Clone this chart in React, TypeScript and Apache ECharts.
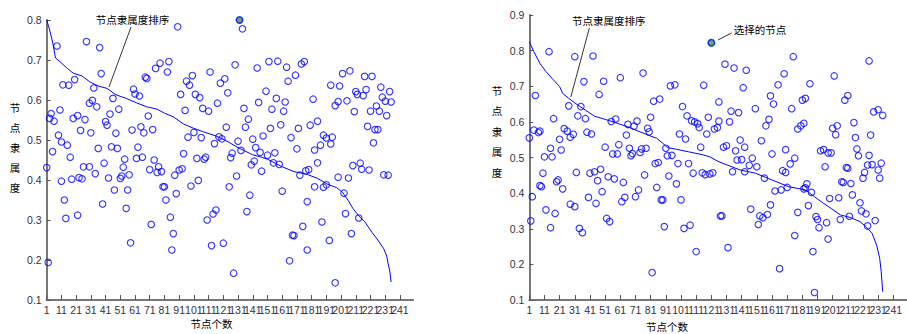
import React, { useEffect, useRef } from "react";
import * as echarts from "echarts";

// ---- Left panel data: [node index, membership] ----
const leftCurve: [number, number][] = [
  [1, 0.8], [3, 0.775], [5, 0.745], [7, 0.705], [10, 0.696], [15, 0.679], [19, 0.667], [25, 0.66],
  [30, 0.646], [36, 0.635], [42, 0.629], [48, 0.613], [55, 0.604], [62, 0.593], [69, 0.583], [76, 0.577],
  [81, 0.567], [87, 0.558], [94, 0.54], [101, 0.529], [107, 0.521], [116, 0.51], [123, 0.498], [132, 0.479],
  [141, 0.463], [146, 0.458], [151, 0.452], [161, 0.433], [169, 0.421], [178, 0.414], [185, 0.404],
  [192, 0.389], [198, 0.381], [202, 0.369], [206, 0.348], [209, 0.329], [213, 0.31], [217, 0.296],
  [222, 0.269], [226, 0.25], [230, 0.228], [232, 0.21], [233, 0.19], [234, 0.175], [235, 0.145],
];

const leftPoints: [number, number][] = [
  [90, 0.783], [134, 0.778], [8, 0.735], [28, 0.746], [37, 0.731], [38, 0.666], [78, 0.692], [75, 0.679],
  [84, 0.696], [83, 0.67], [68, 0.657], [69, 0.654], [112, 0.67], [129, 0.688], [144, 0.68], [152, 0.696],
  [158, 0.697], [164, 0.682], [170, 0.662], [174, 0.69], [176, 0.696], [207, 0.673], [202, 0.666], [217, 0.659],
  [222, 0.659], [12, 0.638], [16, 0.637], [20, 0.651], [33, 0.63], [60, 0.627], [61, 0.615], [64, 0.61],
  [46, 0.604], [96, 0.647], [98, 0.637], [100, 0.661], [102, 0.614], [105, 0.606], [92, 0.614], [119, 0.642],
  [122, 0.653], [124, 0.618], [117, 0.592], [107, 0.579], [111, 0.572], [95, 0.574], [135, 0.579], [145, 0.594],
  [150, 0.622], [157, 0.604], [154, 0.577], [163, 0.595], [162, 0.572], [165, 0.647], [182, 0.602], [194, 0.637],
  [200, 0.635], [211, 0.621], [212, 0.614], [218, 0.626], [216, 0.611], [205, 0.598], [199, 0.596], [197, 0.586],
  [210, 0.571], [228, 0.632], [234, 0.621], [229, 0.607], [231, 0.597], [235, 0.595], [225, 0.585], [221, 0.572],
  [227, 0.572], [232, 0.561], [219, 0.534], [224, 0.526], [226, 0.526], [223, 0.493], [4, 0.566], [3, 0.554],
  [6, 0.547], [10, 0.575], [19, 0.554], [22, 0.561], [30, 0.592], [32, 0.599], [35, 0.583], [27, 0.551],
  [24, 0.524], [31, 0.518], [41, 0.546], [42, 0.537], [44, 0.565], [50, 0.577], [70, 0.56], [59, 0.525],
  [65, 0.533], [67, 0.518], [73, 0.526], [48, 0.517], [9, 0.512], [11, 0.495], [15, 0.487], [5, 0.471],
  [17, 0.457], [36, 0.479], [45, 0.483], [49, 0.479], [63, 0.482], [62, 0.454], [66, 0.457], [74, 0.45],
  [94, 0.466], [97, 0.507], [101, 0.519], [106, 0.506], [103, 0.454], [108, 0.452], [109, 0.457], [115, 0.491],
  [118, 0.508], [120, 0.503], [123, 0.532], [127, 0.467], [126, 0.456], [131, 0.497], [133, 0.474], [136, 0.532],
  [138, 0.552], [141, 0.502], [143, 0.481], [148, 0.51], [153, 0.529], [160, 0.538], [167, 0.506], [172, 0.529],
  [171, 0.478], [142, 0.447], [146, 0.469], [151, 0.462], [156, 0.468], [180, 0.537], [185, 0.547], [189, 0.512],
  [191, 0.505], [195, 0.507], [194, 0.49], [187, 0.487], [183, 0.475], [54, 0.452],
  [1, 0.431], [2, 0.194], [11, 0.397], [13, 0.35], [14, 0.304], [18, 0.402], [23, 0.406], [25, 0.403],
  [22, 0.312], [26, 0.433], [30, 0.433], [34, 0.416], [39, 0.34], [40, 0.442], [43, 0.405], [47, 0.375],
  [51, 0.404], [52, 0.41], [53, 0.432], [55, 0.329], [56, 0.375], [57, 0.413], [58, 0.243], [71, 0.426],
  [72, 0.289], [76, 0.419], [77, 0.433], [79, 0.421], [80, 0.383], [81, 0.383], [82, 0.35], [85, 0.307],
  [86, 0.225], [87, 0.266], [88, 0.412], [89, 0.366], [91, 0.425], [93, 0.428], [99, 0.385], [104, 0.399],
  [110, 0.3], [113, 0.236], [114, 0.315], [116, 0.325], [121, 0.242], [125, 0.383], [128, 0.167], [130, 0.41],
  [137, 0.321], [139, 0.362], [140, 0.438], [147, 0.422], [155, 0.443], [159, 0.439], [161, 0.372], [166, 0.198],
  [168, 0.262], [169, 0.261], [173, 0.412], [175, 0.284], [177, 0.423], [179, 0.426], [178, 0.346], [178, 0.225],
  [183, 0.383], [185, 0.443], [188, 0.295], [189, 0.382], [191, 0.388], [193, 0.249], [197, 0.143], [199, 0.407],
  [203, 0.367], [204, 0.316], [206, 0.405], [208, 0.266], [209, 0.436], [213, 0.305], [214, 0.442], [215, 0.427],
  [220, 0.425], [230, 0.413], [233, 0.412],
];

const leftSelected: [number, number][] = [[132, 0.8]];

// ---- Right panel data ----
const rightCurve: [number, number][] = [
  [1, 0.825], [4, 0.797], [8, 0.764], [12, 0.741], [16, 0.722], [21, 0.699], [23, 0.68], [27, 0.666],
  [33, 0.647], [38, 0.633], [44, 0.616], [51, 0.607], [59, 0.596], [66, 0.586], [74, 0.572], [81, 0.56],
  [85, 0.554], [89, 0.54], [92, 0.528], [98, 0.523], [106, 0.516], [115, 0.508], [120, 0.502], [125, 0.49],
  [132, 0.478], [140, 0.465], [150, 0.456], [161, 0.437], [172, 0.418], [183, 0.409], [189, 0.39],
  [195, 0.371], [200, 0.357], [206, 0.339], [213, 0.331], [219, 0.32], [223, 0.306], [227, 0.287],
  [230, 0.254], [232, 0.217], [233, 0.18], [234, 0.123],
];

const rightPoints: [number, number][] = [
  [1, 0.555], [5, 0.674], [4, 0.577], [7, 0.57], [8, 0.574], [14, 0.797], [11, 0.502], [16, 0.502],
  [15, 0.526], [17, 0.609], [21, 0.551], [22, 0.521], [24, 0.581], [26, 0.574], [28, 0.557], [27, 0.645],
  [30, 0.565], [31, 0.783], [35, 0.643], [33, 0.617], [37, 0.713], [38, 0.609], [39, 0.571], [42, 0.566],
  [43, 0.785], [47, 0.677], [50, 0.714], [51, 0.529], [56, 0.51], [59, 0.51], [55, 0.601], [58, 0.608],
  [61, 0.724], [60, 0.536], [65, 0.563], [66, 0.593], [67, 0.526], [68, 0.505], [69, 0.511], [70, 0.588],
  [72, 0.602], [74, 0.514], [75, 0.524], [78, 0.526], [76, 0.737], [79, 0.582], [80, 0.572], [81, 0.613],
  [83, 0.658], [87, 0.664], [84, 0.483], [86, 0.486], [91, 0.526], [92, 0.505], [95, 0.506], [94, 0.701],
  [97, 0.704], [99, 0.483], [100, 0.566], [102, 0.643], [104, 0.552], [105, 0.617], [106, 0.483], [108, 0.603],
  [110, 0.6], [112, 0.595], [113, 0.584], [114, 0.529], [116, 0.703], [118, 0.566], [119, 0.613], [123, 0.58],
  [125, 0.584], [126, 0.602], [126, 0.656], [130, 0.762], [133, 0.6], [129, 0.529], [131, 0.533], [134, 0.63],
  [136, 0.751], [139, 0.626], [137, 0.519], [138, 0.493], [141, 0.494], [142, 0.696], [143, 0.529], [144, 0.745],
  [146, 0.478], [148, 0.498], [150, 0.637], [154, 0.547], [140, 0.549], [157, 0.589], [159, 0.607], [160, 0.673],
  [162, 0.65], [161, 0.51], [165, 0.704], [169, 0.735], [170, 0.522], [174, 0.637], [175, 0.783], [176, 0.498],
  [178, 0.58], [180, 0.589], [182, 0.596], [181, 0.661], [183, 0.666], [186, 0.707], [193, 0.519], [195, 0.522],
  [198, 0.513], [200, 0.513], [196, 0.474], [201, 0.582], [204, 0.589], [203, 0.564], [202, 0.729], [209, 0.661],
  [211, 0.674], [215, 0.598], [216, 0.556], [217, 0.524], [210, 0.472], [218, 0.505], [225, 0.771], [226, 0.563],
  [228, 0.628], [231, 0.634], [234, 0.618], [225, 0.506], [227, 0.48], [233, 0.484],
  [2, 0.322], [3, 0.39], [8, 0.421], [9, 0.418], [10, 0.456], [12, 0.353], [15, 0.303], [18, 0.343],
  [19, 0.432], [20, 0.437], [23, 0.412], [28, 0.369], [31, 0.362], [32, 0.458], [34, 0.301], [36, 0.289],
  [40, 0.388], [41, 0.456], [44, 0.46], [46, 0.435], [45, 0.371], [48, 0.467], [49, 0.404], [52, 0.329],
  [54, 0.32], [53, 0.446], [57, 0.44], [62, 0.376], [63, 0.43], [64, 0.388], [71, 0.39], [73, 0.409],
  [77, 0.451], [82, 0.177], [85, 0.416], [88, 0.381], [89, 0.381], [90, 0.306], [93, 0.448], [98, 0.426],
  [101, 0.381], [103, 0.301], [107, 0.31], [109, 0.456], [111, 0.236], [115, 0.457], [117, 0.452], [120, 0.454],
  [122, 0.457], [127, 0.336], [128, 0.336], [132, 0.247], [135, 0.46], [143, 0.46], [147, 0.355], [151, 0.474],
  [152, 0.312], [153, 0.336], [155, 0.331], [158, 0.34], [160, 0.367], [166, 0.188], [176, 0.281], [178, 0.346],
  [185, 0.365], [190, 0.334], [191, 0.326], [192, 0.303], [197, 0.317], [198, 0.271], [188, 0.236], [189, 0.121],
  [206, 0.326], [212, 0.335], [219, 0.373], [220, 0.35], [223, 0.342], [224, 0.308], [229, 0.323], [199, 0.385],
  [205, 0.387], [207, 0.432], [208, 0.43], [213, 0.427], [214, 0.395], [221, 0.442], [222, 0.458], [211, 0.47],
  [183, 0.415], [182, 0.412], [184, 0.426], [187, 0.402], [163, 0.406], [167, 0.409], [171, 0.416], [156, 0.442],
  [168, 0.463], [170, 0.458], [173, 0.482], [224, 0.479], [231, 0.465], [232, 0.442],
];

const rightSelected: [number, number][] = [[121, 0.822]];

// ---- Annotation text ----
const sortLabel = "节点隶属度排序";
const leftSelLabel = "选择节点";
const rightSelLabel = "选择的节点";
const yName = "节点隶属度";
const xName = "节点个数";

// annotation leader lines (data coordinates)
const leftSortLeader: [number, number][] = [[58.3, 0.7825], [43.3, 0.6325]];
const leftSelLeader: [number, number][] = [[135.7, 0.805], [145.2, 0.8175]];
const rightSortLeader: [number, number][] = [[40.6, 0.8635], [28.4, 0.67]];
const rightSelLeader: [number, number][] = [[125.4, 0.83], [134.4, 0.8495]];

const BLUE = "#0000ff";
const AXIS = "#777777";
const TICK_TEXT = "#33303f";
const NUM_FONT = "'Liberation Sans', Arial, sans-serif";
const CJK_FONT = "'Noto Sans CJK SC', sans-serif";

function makeXAxis(gridIndex: number) {
  return {
    gridIndex,
    type: "value",
    min: 1,
    max: 250,
    interval: 10,
    axisLine: { show: true, onZero: false, lineStyle: { color: AXIS, width: 2 } },
    axisTick: { show: true, inside: true, length: 5, lineStyle: { color: "#555", width: 1 } },
    axisLabel: {
      showMaxLabel: false,
      color: TICK_TEXT,
      fontSize: 10.5,
      fontFamily: NUM_FONT,
      margin: 4,
    },
    splitLine: { show: false },
  };
}

function makeYAxis(gridIndex: number, max: number) {
  return {
    gridIndex,
    type: "value",
    min: 0.1,
    max,
    interval: 0.1,
    axisLine: { show: true, onZero: false, lineStyle: { color: AXIS, width: 2 } },
    axisTick: { show: true, inside: true, length: 4, lineStyle: { color: "#555", width: 1 } },
    axisLabel: {
      color: TICK_TEXT,
      fontSize: 10.5,
      fontFamily: NUM_FONT,
      margin: 5,
      formatter: (v: number) => v.toFixed(1),
    },
    splitLine: { show: false },
  };
}

function scatter(idx: number, data: [number, number][]) {
  return {
    type: "scatter",
    xAxisIndex: idx,
    yAxisIndex: idx,
    data,
    symbol: "circle",
    symbolSize: 6.5,
    itemStyle: { color: "rgba(0,0,0,0)", borderColor: BLUE, borderWidth: 1.1 },
    silent: true,
  };
}

function curve(idx: number, data: [number, number][]) {
  return {
    type: "line",
    xAxisIndex: idx,
    yAxisIndex: idx,
    data,
    showSymbol: false,
    symbol: "none",
    lineStyle: { color: BLUE, width: 1 },
    silent: true,
    z: 3,
  };
}

function selected(idx: number, data: [number, number][]) {
  return {
    type: "scatter",
    xAxisIndex: idx,
    yAxisIndex: idx,
    data,
    symbol: "circle",
    symbolSize: 6.5,
    itemStyle: { color: "#2f9e3a", borderColor: BLUE, borderWidth: 1.5 },
    silent: true,
    z: 5,
  };
}

function leader(
  idx: number,
  data: [number, number][],
  text: string,
  labelIndex: number,
  position: string,
  offset: [number, number]
) {
  return {
    type: "line",
    xAxisIndex: idx,
    yAxisIndex: idx,
    data: data.map((d, i) =>
      i === labelIndex
        ? {
            value: d,
            label: {
              show: true,
              position,
              distance: 2,
              offset,
              formatter: text,
              color: "#000",
              fontSize: 10.5,
              fontFamily: CJK_FONT,
            },
          }
        : { value: d }
    ),
    showSymbol: true,
    symbol: "circle",
    symbolSize: 0.01,
    itemStyle: { color: "rgba(0,0,0,0)" },
    lineStyle: { color: "#000", width: 0.8 },
    silent: true,
    z: 6,
  };
}

export default function App() {
  const ref = useRef<HTMLDivElement>(null);

  useEffect(() => {
    if (!ref.current) return;
    const chart = echarts.init(ref.current, null, { renderer: "svg" });
    chart.setOption({
      animation: false,
      backgroundColor: "#ffffff",
      grid: [
        { left: 46.7, top: 20, width: 366.5, height: 280 },
        { left: 529.3, top: 15, width: 387.7, height: 285 },
      ],
      xAxis: [makeXAxis(0), makeXAxis(1)],
      yAxis: [makeYAxis(0, 0.8), makeYAxis(1, 0.9)],
      series: [
        scatter(0, leftPoints),
        curve(0, leftCurve),
        selected(0, leftSelected),
        leader(0, leftSortLeader, sortLabel, 0, "top", [1.5, 0]),
        leader(0, leftSelLeader, leftSelLabel, 1, "right", [0, -2]),
        scatter(1, rightPoints),
        curve(1, rightCurve),
        selected(1, rightSelected),
        leader(1, rightSortLeader, sortLabel, 0, "top", [19.5, 0]),
        leader(1, rightSelLeader, rightSelLabel, 1, "right", [0, -3]),
      ],
      graphic: [
        {
          type: "text",
          x: 15,
          y: 97,
          style: {
            text: yName.split("").join("\n"),
            fontSize: 10.5,
            lineHeight: 20,
            fontFamily: CJK_FONT,
            fill: "#000",
            align: "center",
            verticalAlign: "top",
          },
        },
        {
          type: "text",
          x: 497,
          y: 80,
          style: {
            text: yName.split("").join("\n"),
            fontSize: 10.5,
            lineHeight: 20.5,
            fontFamily: CJK_FONT,
            fill: "#000",
            align: "center",
            verticalAlign: "top",
          },
        },
        {
          type: "text",
          x: 211.5,
          y: 323,
          style: {
            text: xName,
            fontSize: 10.5,
            fontFamily: CJK_FONT,
            fill: "#000",
            align: "center",
            verticalAlign: "middle",
          },
        },
        {
          type: "text",
          x: 667,
          y: 326.5,
          style: {
            text: xName,
            fontSize: 10.5,
            fontFamily: CJK_FONT,
            fill: "#000",
            align: "center",
            verticalAlign: "middle",
          },
        },
      ],
    });
    return () => chart.dispose();
  }, []);

  return (
    <div
      style={{ position: "absolute", left: 0, top: 0, width: 907, height: 334, overflow: "hidden", background: "#fff" }}
    >
      <div ref={ref} style={{ width: 907, height: 334 }} />
    </div>
  );
}
